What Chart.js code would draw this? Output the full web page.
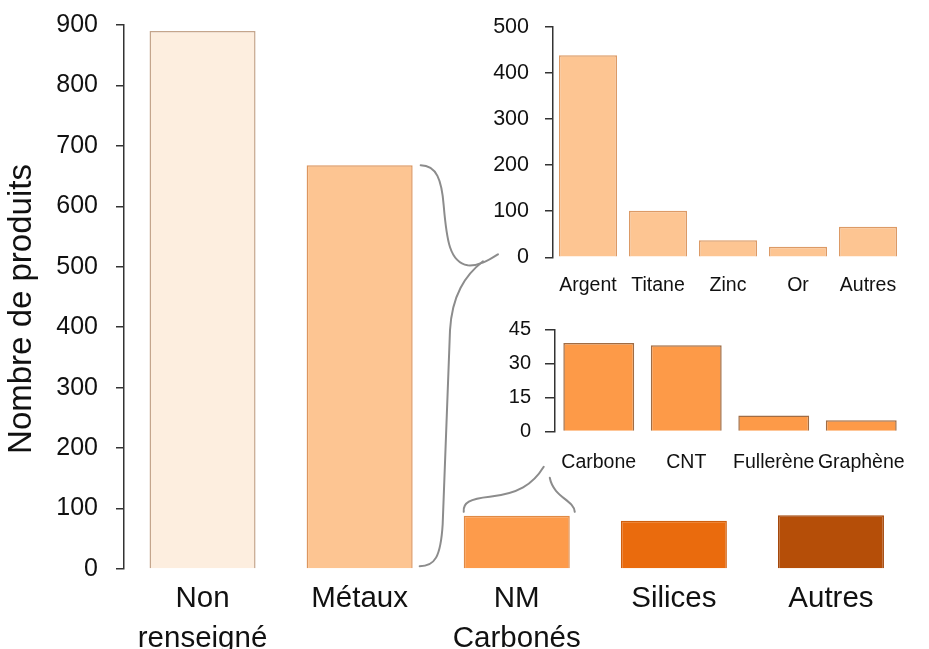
<!DOCTYPE html>
<html>
<head>
<meta charset="utf-8">
<script src="https://cdn.jsdelivr.net/npm/chart.js@4.4.1/dist/chart.umd.min.js"></script>
<style>
  html, body { margin: 0; padding: 0; background: #fff; }
  #wrap { position: relative; width: 929px; height: 649px; background: #fff; overflow: hidden; }
  canvas { position: absolute; }
</style>
</head>
<body>
<div id="wrap">
  <canvas id="main" width="929" height="649" style="left:0;top:0"></canvas>
  <canvas id="inTop" width="449" height="305" style="left:480px;top:0"></canvas>
  <canvas id="inBot" width="449" height="170" style="left:480px;top:310px"></canvas>
  <canvas id="brace" width="929" height="649" style="left:0;top:0;pointer-events:none"></canvas>
</div>
<script>
// ---- data ----
const mainCategories = [['Non', 'renseigné'], 'Métaux', ['NM', 'Carbonés'], 'Silices', 'Autres'];
const mainValues = [890, 668, 88, 80, 89];
const mainTickMax = 900, mainTickStep = 100;

const metalCategories = ['Argent', 'Titane', 'Zinc', 'Or', 'Autres'];
const metalValues = [438, 101, 37, 23, 66];
const metalTickMax = 500, metalTickStep = 100;

const carbonCategories = ['Carbone', 'CNT', 'Fullerène', 'Graphène'];
const carbonValues = [39, 38, 7, 5];
const carbonTickMax = 45, carbonTickStep = 15;

const yTitle = 'Nombre de produits';

// ---- styles ----
const mainFills = ['#fdeedf', '#fdc592', '#fd9b4b', '#ea6b0d', '#b54e08'];
const mainBorders = ['#c4a58c', '#dc965f', '#e08a45', '#cf5f0e', '#a4470a'];
const SANS = '"Liberation Sans", Arial, sans-serif';
const AXIS = '#333333';

Chart.defaults.animation = false;
Chart.defaults.responsive = false;
Chart.defaults.plugins.legend.display = false;
Chart.defaults.plugins.tooltip.enabled = false;

function yScale(max, step, fontSpec, tickLen, pad, width) {
  return {
    min: 0, max: max,
    ticks: { stepSize: step, font: fontSpec, color: '#111', padding: pad },
    grid: { display: true, drawOnChartArea: false, drawTicks: true, tickLength: tickLen, color: AXIS, lineWidth: 1.5 },
    border: { display: true, color: AXIS, width: 1.5 },
    afterFit: s => { s.width = width; s.paddingTop = 0; s.paddingBottom = 0; }
  };
}
function xScale(fontSpec, pad, height) {
  return {
    offset: true,
    ticks: { font: fontSpec, color: '#111', padding: pad, autoSkip: false, maxRotation: 0, minRotation: 0 },
    grid: { display: false, drawTicks: false },
    border: { display: false },
    afterFit: s => { s.height = height; s.paddingLeft = 0; s.paddingRight = 0; }
  };
}

const titlePlugin = {
  id: 'ytitle',
  afterDraw(chart) {
    const ctx = chart.ctx;
    ctx.save();
    ctx.translate(22, 309);
    ctx.rotate(-Math.PI / 2);
    ctx.font = '33px ' + SANS;
    ctx.fillStyle = '#111';
    ctx.textAlign = 'center';
    ctx.textBaseline = 'middle';
    ctx.fillText(yTitle, 0, 0);
    ctx.restore();
  }
};

const mainChart = new Chart(document.getElementById('main'), {
  type: 'bar',
  data: { labels: mainCategories, datasets: [{ data: mainValues, backgroundColor: mainFills, borderColor: mainBorders, borderWidth: 1.5, barPercentage: 0.675, categoryPercentage: 1 }] },
  options: {
    layout: { padding: { top: 25, right: 19.5, left: 0, bottom: 0 } },
    scales: {
      x: xScale({ size: 29.5, family: SANS, lineHeight: 1.36 }, 10, 80),
      y: yScale(mainTickMax, mainTickStep, { size: 25, family: SANS }, 8, 18, 124)
    }
  },
  plugins: [titlePlugin]
});

const topChart = new Chart(document.getElementById('inTop'), {
  type: 'bar',
  data: { labels: metalCategories, datasets: [{ data: metalValues, backgroundColor: '#fdc592', borderColor: '#dc9a66', borderWidth: 1.5, barPercentage: 0.83, categoryPercentage: 1 }] },
  options: {
    layout: { padding: { top: 26.7, right: 26, left: 0, bottom: 0 } },
    scales: {
      x: xScale({ size: 19.5, family: SANS }, 17, 305 - 257.3),
      y: yScale(metalTickMax, metalTickStep, { size: 21.5, family: SANS }, 8, 16, 73)
    }
  }
});

const botChart = new Chart(document.getElementById('inBot'), {
  type: 'bar',
  data: { labels: carbonCategories, datasets: [{ data: carbonValues, backgroundColor: '#fd9a48', borderColor: '#a06c44', borderWidth: 1.5, barPercentage: 0.81, categoryPercentage: 1 }] },
  options: {
    layout: { padding: { top: 19.3, right: 24, left: 0, bottom: 0 } },
    scales: {
      x: xScale({ size: 19.5, family: SANS }, 19, 170 - 121.5),
      y: yScale(carbonTickMax, carbonTickStep, { size: 20, family: SANS }, 10, 14, 75)
    }
  }
});

// ---- braces, anchored on the charts' own geometry ----
(function drawBraces() {
  const ctx = document.getElementById('brace').getContext('2d');
  ctx.strokeStyle = '#8c8c8c';
  ctx.lineWidth = 2;
  ctx.lineCap = 'round';
  const bars = mainChart.getDatasetMeta(0).data;
  const m = bars[1];
  const x0 = m.x + m.width / 2, yT = m.y, yB = m.base;
  const tx = 480 + topChart.chartArea.left - 55;
  const ty = topChart.scales.y.getPixelForValue(0) - 3;
  // upper arm
  ctx.beginPath();
  ctx.moveTo(x0 + 8, yT);
  ctx.bezierCurveTo(x0 + 24, yT, x0 + 29, yT + 15, x0 + 31, yT + 40);
  ctx.bezierCurveTo(x0 + 34, ty - 14, x0 + 37, ty + 8, x0 + 55, ty + 11);
  ctx.bezierCurveTo(x0 + 67, ty + 12, tx - 8, ty + 5, tx, ty);
  ctx.stroke();
  // lower arm
  ctx.beginPath();
  ctx.moveTo(tx - 15, ty + 7);
  ctx.bezierCurveTo(tx - 33, ty + 21, tx - 46, ty + 41, tx - 48, ty + 76);
  ctx.lineTo(x0 + 30, yB - 44);
  ctx.bezierCurveTo(x0 + 28, yB - 11, x0 + 22, yB - 2, x0 + 7, yB - 2);
  ctx.stroke();

  const c = bars[2];
  const cl = c.x - c.width / 2, cr = c.x + c.width / 2, cT = c.y;
  ctx.beginPath();
  ctx.moveTo(cl, cT - 4);
  ctx.bezierCurveTo(cl - 1, cT - 13, cl + 6, cT - 17, cl + 26, cT - 19);
  ctx.bezierCurveTo(cl + 54, cT - 22, cl + 69, cT - 31, cl + 80, cT - 49);
  ctx.stroke();
  ctx.beginPath();
  ctx.moveTo(cr - 20, cT - 38);
  ctx.bezierCurveTo(cr - 16, cT - 18, cr + 4, cT - 16, cr + 5, cT - 4);
  ctx.stroke();
})();
</script>
</body>
</html>
